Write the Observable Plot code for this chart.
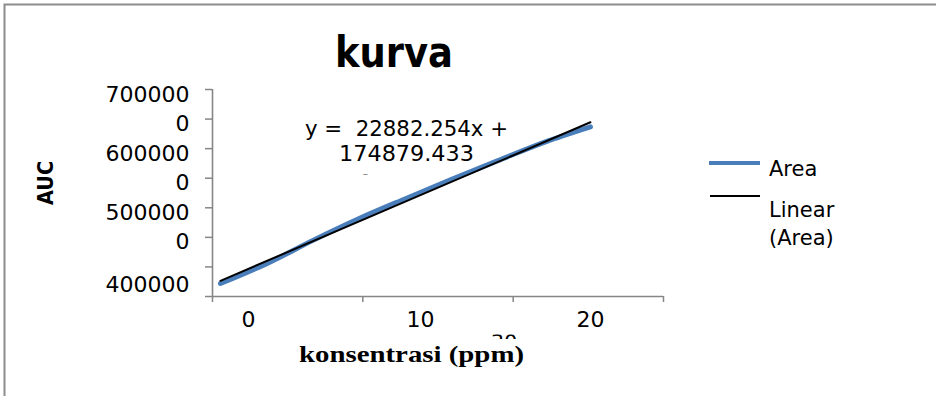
<!DOCTYPE html>
<html>
<head>
<meta charset="utf-8">
<script src="https://cdn.jsdelivr.net/npm/d3@7"></script>
<script src="https://cdn.jsdelivr.net/npm/@observablehq/plot@0.6"></script>
<style>
  html, body { margin: 0; padding: 0; background: #fff; }
  #chart { width: 936px; height: 396px; overflow: hidden; }
</style>
</head>
<body>
<div id="chart"></div>
<script>
// ---- data ----
const concentration = [0, 2.5, 5, 7.5, 10, 12.5, 15, 17.5, 20];
const area = [3720000, 4055000, 4449000, 4819000, 5154000, 5480000, 5798000, 6107000, 6368000];

const yTickValues = [3500000, 4000000, 4500000, 5000000, 5500000, 6000000, 6500000, 7000000];
const yTickLabels = ["400000", "", "0", "500000", "0", "600000", "0", "700000"];
const xTickValues = [0, 10, 20];
const xTickLabels = ["0", "10", "20"];

const titleText = "kurva";
const xTitle = "konsentrasi (ppm)";
const yTitle = "AUC";
const seriesName = "Area";
const trendNameLines = ["Linear", "(Area)"];
const equationLines = ["y =  22882.254x +", "174879.433"];

const xDomain = [-0.43, 23.95];
const yDomain = [3500000, 7000000];

// ---- build ----
const data = concentration.map((x, i) => ({conc: x, auc: area[i]}));
const xSeparators = d3.range(4).map(i => xDomain[0] + i * (xDomain[1] - xDomain[0]) / 3);
const fmtY = d => yTickLabels[yTickValues.indexOf(d)];
const fmtX = d => xTickLabels[xTickValues.indexOf(d)];
const xLabelShift = [28, 15, 0]; // Excel-style offset of category labels
const axisColor = "#868686";
const blue = "#4a7ebb";
const sans = "'DejaVu Sans', Verdana, sans-serif";

const svg = Plot.plot({
  width: 936,
  height: 396,
  marginLeft: 212,
  marginRight: 273,
  marginTop: 89,
  marginBottom: 100,
  style: {background: "#fff", fontFamily: sans, fontSize: "22px", color: "#000", overflow: "visible"},
  x: {domain: xDomain, label: null},
  y: {domain: yDomain, label: null},
  marks: [
    Plot.line(data, {x: "conc", y: "auc", stroke: blue, strokeWidth: 5, curve: "catmull-rom"}),
    Plot.linearRegressionY(data, {x: "conc", y: "auc", stroke: "#000", strokeWidth: 2, ci: 0}),
    Plot.ruleX([xDomain[0]], {stroke: axisColor, strokeWidth: 1.6}),
    Plot.ruleY([yDomain[0]], {stroke: axisColor, strokeWidth: 1.6}),
    Plot.axisY({ticks: yTickValues, tickSize: 7, tickFormat: () => "", stroke: axisColor, strokeWidth: 1.5, label: null}),
    Plot.axisY({ticks: yTickValues.slice(1), tickSize: 0, tickPadding: 23, tickFormat: fmtY, dy: 5, fill: "#000", label: null}),
    Plot.axisY({ticks: yTickValues.slice(0, 1), tickSize: 0, tickPadding: 23, tickFormat: fmtY, dy: -12, fill: "#000", label: null}),
    Plot.axisX({ticks: xSeparators, tickSize: 6, tickFormat: () => "", stroke: axisColor, strokeWidth: 1.5, label: null}),
    ...xTickValues.map((v, i) =>
      Plot.axisX({ticks: [v], tickSize: 0, tickPadding: 15, tickFormat: fmtX, dx: xLabelShift[i], fill: "#000", label: null}))
  ]
});

const s = d3.select(svg);

// outer chart border (top and left visible)
s.append("path").attr("d", "M4.5,396V4.5H936").attr("fill", "none")
  .attr("stroke", "#8c8c8c").attr("stroke-width", 2);

function addText(str, x, y, o = {}) {
  const t = s.append("text")
    .attr("x", x).attr("y", y)
    .attr("fill", "#000")
    .style("font-family", o.family || sans)
    .style("font-size", (o.size || 22) + "px")
    .style("font-weight", o.weight || "normal")
    .style("white-space", "pre")
    .attr("text-anchor", o.anchor || "start")
    .text(str);
  if (o.len) t.attr("textLength", o.len).attr("lengthAdjust", "spacingAndGlyphs");
  if (o.transform) t.attr("transform", o.transform);
  if (o.clip) t.attr("clip-path", `url(#${o.clip})`);
  return t;
}

// title
addText(titleText, 394, 67, {size: 42, weight: "bold", anchor: "middle", len: 118});

// axis titles
addText(yTitle, 0, 0, {size: 22, weight: "bold", anchor: "middle", len: 44, transform: "translate(53,183) rotate(-90)"});
addText(xTitle, 411.5, 361.5, {size: 24, weight: "bold", anchor: "middle", len: 225, family: "'Liberation Serif', 'Times New Roman', serif"});

// trendline equation label
addText(equationLines[0], 406.5, 136, {size: 21, anchor: "middle", len: 203});
addText(equationLines[1], 406.5, 160.5, {size: 21, anchor: "middle", len: 135});

// clipped remnants (third line of the label, hidden category label)
const defs = s.append("defs");
defs.append("clipPath").attr("id", "clipR").append("rect").attr("x", 355).attr("y", 170.5).attr("width", 25).attr("height", 4);
defs.append("clipPath").attr("id", "clip30").append("rect").attr("x", 488).attr("y", 334.5).attr("width", 34).attr("height", 4.5);
addText("²", 366, 190, {size: 21, anchor: "middle", clip: "clipR"});
addText("30", 504, 350, {size: 21, anchor: "middle", clip: "clip30"});

// legend
s.append("line").attr("x1", 709).attr("x2", 760).attr("y1", 163).attr("y2", 163)
  .attr("stroke", blue).attr("stroke-width", 4);
s.append("line").attr("x1", 710).attr("x2", 760).attr("y1", 196).attr("y2", 196)
  .attr("stroke", "#000").attr("stroke-width", 2);
addText(seriesName, 769, 176, {size: 21});
addText(trendNameLines[0], 769, 217, {size: 21});
addText(trendNameLines[1], 769, 245, {size: 21});

document.getElementById("chart").appendChild(svg);
</script>
</body>
</html>
